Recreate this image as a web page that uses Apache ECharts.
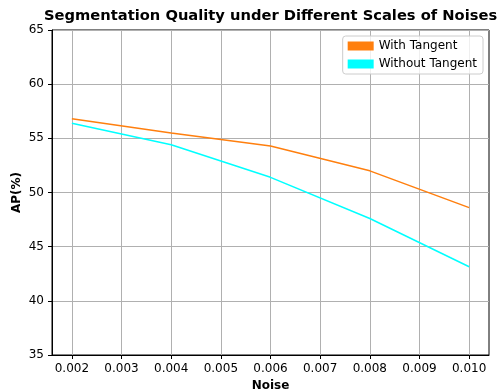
<!DOCTYPE html>
<html><head><meta charset="utf-8">
<script src="https://cdn.jsdelivr.net/npm/echarts@6/dist/echarts.min.js"></script>
<style>html,body{margin:0;padding:0;background:#fff}#c{width:498px;height:390px}</style>
</head><body><div id="c"></div>
<script>
const noise = [0.002, 0.004, 0.006, 0.008, 0.010];
const withTangent = [56.8, 55.5, 54.3, 52.0, 48.6];
const withoutTangent = [56.4, 54.4, 51.4, 47.6, 43.15];
const xTicks = [0.002, 0.003, 0.004, 0.005, 0.006, 0.007, 0.008, 0.009, 0.010];
const F = 'DejaVu Sans';
const chart = echarts.init(document.getElementById('c'), null, {renderer: 'canvas'});
chart.setOption({
  animation: false,
  title: {text: 'Segmentation Quality under Different Scales of Noises', left: 44, top: 9, padding: 0,
    textStyle: {fontFamily: F, fontSize: 14.7, fontWeight: 'bold', color: '#000'}},
  grid: {left: 52, right: 9, top: 30, bottom: 35, outerBoundsMode: 'none', containLabel: false,
    show: true, borderColor: '#000', borderWidth: 1, backgroundColor: 'transparent'},
  legend: {right: 15, top: 36, orient: 'vertical', icon: 'rect', itemWidth: 26, itemHeight: 9, itemGap: 6,
    borderColor: '#cccccc', borderWidth: 1, borderRadius: 3, padding: [4, 6, 4, 5], backgroundColor: 'rgba(255,255,255,0.8)',
    textStyle: {fontFamily: F, fontSize: 12, color: '#000'},
    data: ['With Tangent', 'Without Tangent']},
  xAxis: {type: 'value', min: 0.0016, max: 0.0104, name: 'Noise', nameLocation: 'middle', nameGap: 24.5, nameMoveOverlap: false,
    nameTextStyle: {fontFamily: F, fontSize: 12, fontWeight: 'bold', color: '#000'},
    axisLine: {show: true, lineStyle: {color: '#000', width: 1}},
    axisTick: {show: true, length: 4, customValues: xTicks, lineStyle: {color: '#000'}},
    axisLabel: {customValues: xTicks, fontFamily: F, fontSize: 12, color: '#000', margin: 8, formatter: v => v.toFixed(3)},
    splitLine: {show: true, lineStyle: {color: '#b0b0b0', width: 1}}},
  yAxis: {type: 'value', min: 35, max: 65, interval: 5, name: 'AP(%)', nameLocation: 'middle', nameGap: 29, nameMoveOverlap: false,
    nameTextStyle: {fontFamily: F, fontSize: 12, fontWeight: 'bold', color: '#000'},
    axisLine: {show: true, lineStyle: {color: '#000', width: 1}},
    axisTick: {show: true, length: 4, lineStyle: {color: '#000'}},
    axisLabel: {fontFamily: F, fontSize: 12, color: '#000', margin: 8},
    splitLine: {show: true, lineStyle: {color: '#b0b0b0', width: 1}}},
  series: [
    {name: 'With Tangent', type: 'line', data: noise.map((x, i) => [x, withTangent[i]]), showSymbol: false,
      lineStyle: {color: '#ff7f0e', width: 1.5}, itemStyle: {color: '#ff7f0e'}},
    {name: 'Without Tangent', type: 'line', data: noise.map((x, i) => [x, withoutTangent[i]]), showSymbol: false,
      lineStyle: {color: '#00ffff', width: 1.5}, itemStyle: {color: '#00ffff'}}
  ]
});
</script></body></html>
